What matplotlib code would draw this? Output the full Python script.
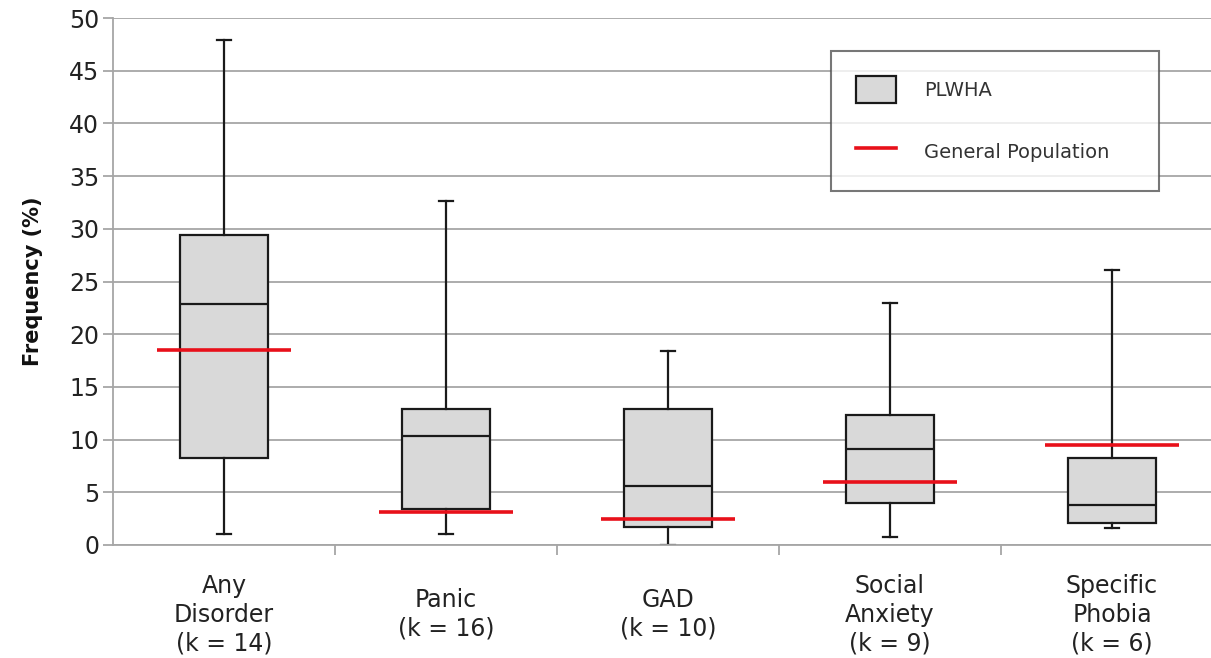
import matplotlib
matplotlib.use('Agg')
import matplotlib.pyplot as plt
from matplotlib.patches import Patch
from matplotlib.lines import Line2D

plt.rcParams['font.family'] = ['DejaVu Sans']

categories = ['Any\nDisorder\n(k = 14)', 'Panic\n(k = 16)', 'GAD\n(k = 10)',
              'Social\nAnxiety\n(k = 9)', 'Specific\nPhobia\n(k = 6)']
whisk_lo = [1.0, 1.0, 0.0, 0.8, 1.6]
q1 = [8.3, 3.4, 1.7, 4.0, 2.1]
med = [22.9, 10.3, 5.6, 9.1, 3.8]
q3 = [29.4, 12.9, 12.9, 12.3, 8.3]
whisk_hi = [47.9, 32.6, 18.4, 23.0, 26.1]
gen_pop = [18.5, 3.1, 2.5, 6.0, 9.5]

positions = list(range(1, len(categories) + 1))

stats = []
for i in range(len(categories)):
    stats.append({'whislo': whisk_lo[i], 'q1': q1[i], 'med': med[i],
                  'q3': q3[i], 'whishi': whisk_hi[i], 'fliers': []})

fig = plt.figure(figsize=(12.11, 6.58), dpi=100)
ax = fig.add_axes([113 / 1211, 1 - 545 / 658, 1 - 113 / 1211, (545 - 18) / 658])

grid_col = '#a6a6a6'
ax.set_ylim(0, 50)
ax.set_yticks(range(0, 51, 5))
ax.yaxis.grid(True, color=grid_col, linewidth=1.3)
ax.set_axisbelow(True)

ax.bxp(stats, positions=positions, widths=0.4, capwidths=0.065,
       patch_artist=True, showfliers=False,
       boxprops=dict(facecolor='#d9d9d9', edgecolor='#1a1a1a', linewidth=1.6),
       medianprops=dict(color='#1a1a1a', linewidth=1.6),
       whiskerprops=dict(color='#1a1a1a', linewidth=1.6),
       capprops=dict(color='#1a1a1a', linewidth=1.6))

for p, g in zip(positions, gen_pop):
    ax.hlines(g, p - 0.3, p + 0.3, color='#e8101a', linewidth=2.6, zorder=4)

ax.set_xlim(0.5, 0.5 + (1211 - 113) / 222)
ax.set_xticks([p + 0.5 for p in positions[:-1]])
ax.set_xticklabels([])
ax.tick_params(axis='x', direction='out', length=7, color=grid_col, width=1.3)
ax.tick_params(axis='y', direction='out', length=7, color=grid_col, width=1.3,
               labelsize=17, labelcolor='#222222', pad=3)

for s in ['top', 'right']:
    ax.spines[s].set_visible(False)
for s in ['left', 'bottom']:
    ax.spines[s].set_color(grid_col)
    ax.spines[s].set_linewidth(1.3)

for p, lab in zip(positions, categories):
    ax.text(p, -0.132, lab, transform=ax.get_xaxis_transform(), ha='center',
            va='center', ma='center', fontsize=17, color='#222222',
            linespacing=1.25)

ax.set_ylabel('Frequency (%)', fontsize=15, fontweight='bold', color='#111111')
ax.yaxis.set_label_coords(-0.064, 0.5)

handles = [Patch(facecolor='#d9d9d9', edgecolor='#1a1a1a', linewidth=1.6),
           Line2D([0], [0], color='#e8101a', linewidth=2.6)]
leg = ax.legend(handles, ['PLWHA', 'General Population'], loc='upper left',
                bbox_to_anchor=(831 / 1211, 1 - 51 / 658 - 0.01, 328 / 1211, 0.01),
                bbox_transform=fig.transFigure, mode='expand', borderaxespad=0,
                fontsize=14, frameon=True, fancybox=False, handlelength=2.06,
                handleheight=1.79, labelspacing=1.8, borderpad=1.29,
                handletextpad=1.43)
leg.get_frame().set_edgecolor('#555555')
leg.get_frame().set_linewidth(1.5)
for t in leg.get_texts():
    t.set_color('#333333')

fig.savefig('out.png', dpi=100)
